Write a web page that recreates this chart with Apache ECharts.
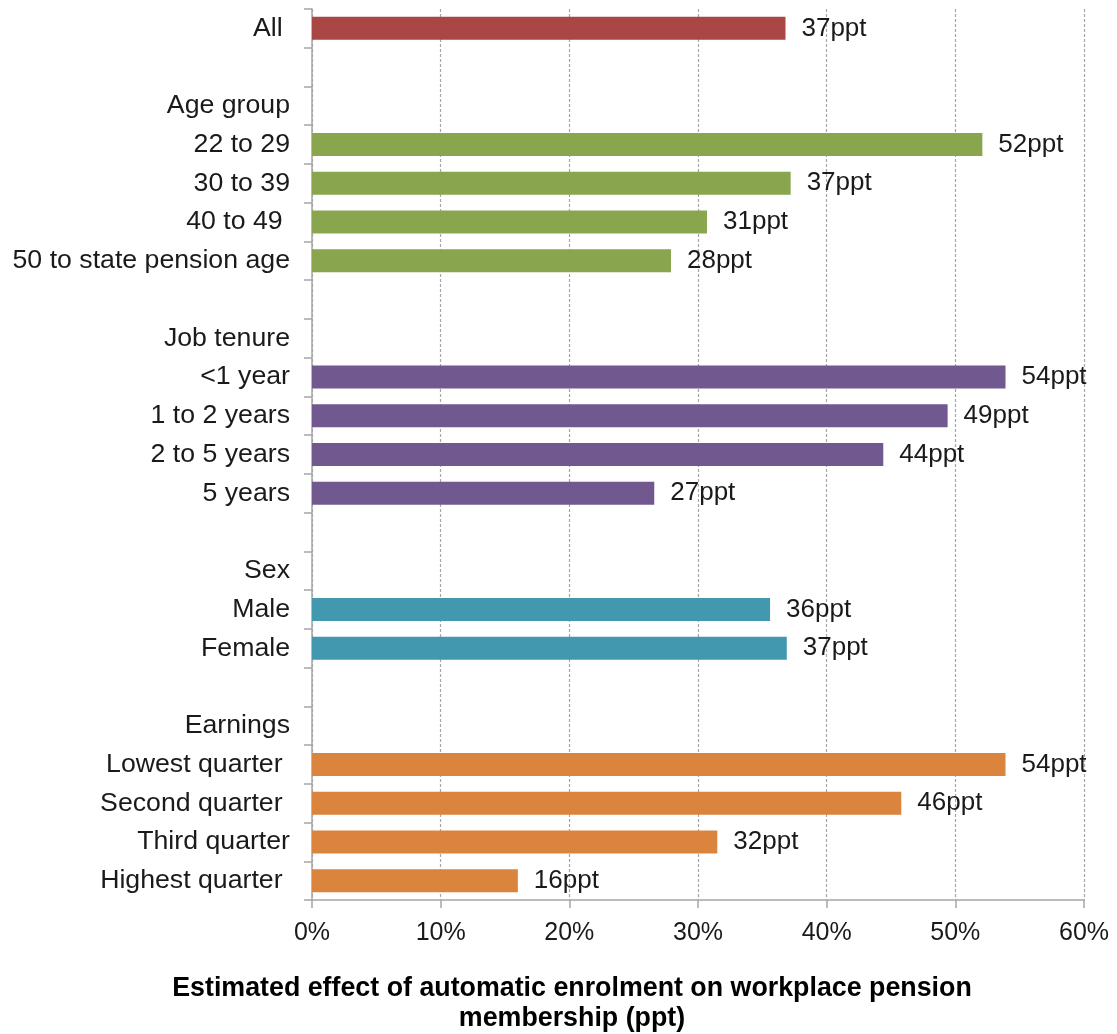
<!DOCTYPE html>
<html>
<head>
<meta charset="utf-8">
<script src="https://cdn.jsdelivr.net/npm/echarts@6/dist/echarts.min.js"></script>
<style>
  html, body { margin: 0; padding: 0; background: #fff; }
  #chart { width: 1117px; height: 1034px; }
</style>
</head>
<body>
<div id="chart"></div>
<script>
// Row labels, top to bottom (blank rows separate the groups)
const categories = [
  'All ', '', 'Age group', '22 to 29', '30 to 39', '40 to 49 ', '50 to state pension age', ' ',
  'Job tenure', '<1 year', '1 to 2 years', '2 to 5 years', '5 years', '  ',
  'Sex', 'Male', 'Female', '   ',
  'Earnings', 'Lowest quarter ', 'Second quarter ', 'Third quarter', 'Highest quarter '
];

// Estimated effect (percentage points); null for heading / spacer rows
const effect = [
  36.8, null, null, 52.1, 37.2, 30.7, 27.9, null,
  null, 53.9, 49.4, 44.4, 26.6, null,
  null, 35.6, 36.9, null,
  null, 53.9, 45.8, 31.5, 16.0
];

// Group of each row, used for bar colour
const group = [
  'all', null, null, 'age', 'age', 'age', 'age', null,
  null, 'tenure', 'tenure', 'tenure', 'tenure', null,
  null, 'sex', 'sex', null,
  null, 'earn', 'earn', 'earn', 'earn'
];

const groupColors = {
  all: '#AA4643',
  age: '#89A54E',
  tenure: '#71588F',
  sex: '#4198AF',
  earn: '#DB843D'
};

const xTicks = [0, 10, 20, 30, 40, 50, 60];

const font = '"Liberation Sans", Arial, sans-serif';

const chart = echarts.init(document.getElementById('chart'));

chart.setOption({
  animation: false,
  backgroundColor: '#fff',
  title: {
    text: 'Estimated effect of automatic enrolment on workplace pension\nmembership (ppt)',
    left: 567,
    top: 969,
    textAlign: 'center',
    textStyle: {
      fontFamily: font,
      fontSize: 26.8,
      fontWeight: 'bold',
      color: '#000',
      lineHeight: 30
    }
  },
  grid: {
    left: 312,
    right: 33,
    top: 9,
    bottom: 134,
    containLabel: false
  },
  xAxis: {
    type: 'value',
    min: xTicks[0],
    max: xTicks[xTicks.length - 1],
    interval: 10,
    axisLine: { show: true, lineStyle: { color: '#A6A6A6', width: 1.5 } },
    axisTick: { show: true, length: 8, lineStyle: { color: '#A6A6A6', width: 1.5 } },
    axisLabel: {
      formatter: v => v + '%',
      fontFamily: font,
      fontSize: 25,
      color: '#1a1a1a',
      margin: 21
    },
    splitLine: {
      show: true,
      lineStyle: { color: '#A6A6A6', type: [3, 2], width: 1.2 }
    }
  },
  yAxis: {
    type: 'category',
    data: categories,
    inverse: true,
    axisLine: { show: true, lineStyle: { color: '#A6A6A6', width: 1.5 } },
    axisTick: { show: true, length: 8, lineStyle: { color: '#A6A6A6', width: 1.5 } },
    axisLabel: {
      interval: 0,
      fontFamily: font,
      fontSize: 26.7,
      color: '#1a1a1a',
      margin: 22
    },
    splitLine: { show: false }
  },
  series: [{
    type: 'bar',
    barWidth: 23,
    data: effect.map((v, i) => ({
      value: v,
      itemStyle: { color: group[i] ? groupColors[group[i]] : 'transparent' }
    })),
    label: {
      show: true,
      position: 'right',
      distance: 16,
      fontFamily: font,
      fontSize: 26,
      color: '#1a1a1a',
      formatter: p => (p.value == null ? '' : Math.round(p.value) + 'ppt')
    }
  }]
});
</script>
</body>
</html>
